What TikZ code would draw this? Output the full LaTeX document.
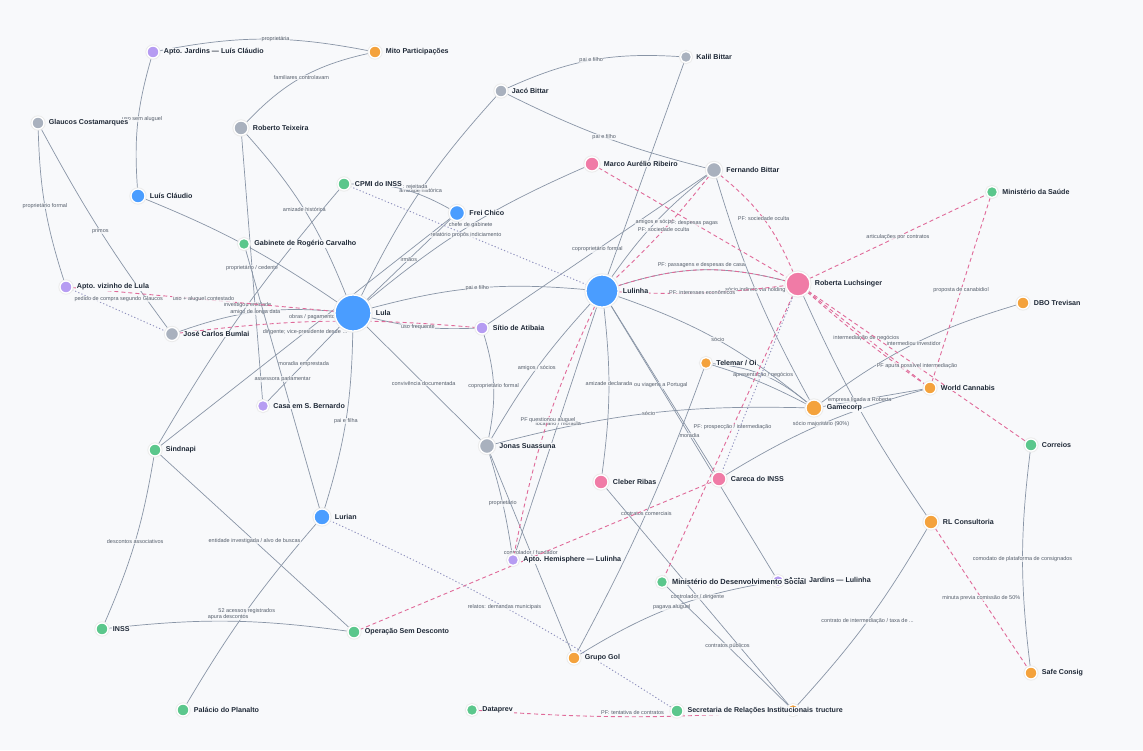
\documentclass[tikz,border=0pt]{standalone}
\usepackage{fontspec}
\setmainfont{Liberation Sans}
\pgfdeclarelayer{back}
\pgfdeclarelayer{edges}
\pgfsetlayers{back,edges,main}
\definecolor{bgc}{HTML}{F8F9FB}
\definecolor{cblue}{HTML}{4A9DFF}
\definecolor{cpink}{HTML}{F07BA6}
\definecolor{cgray}{HTML}{A9B1BE}
\definecolor{cgreen}{HTML}{5BC78C}
\definecolor{corange}{HTML}{F4A23C}
\definecolor{cpurple}{HTML}{B69CF2}
\definecolor{egray}{HTML}{8995A6}
\definecolor{epink}{HTML}{E06A99}
\definecolor{edot}{HTML}{8E90BD}
\definecolor{ntext}{HTML}{1F2937}
\definecolor{etext}{HTML}{555E6B}
\begin{document}
\begin{tikzpicture}[x=1pt,y=-1pt,
  ndot/.style 2 args={circle, fill=#1, minimum size=#2, inner sep=0pt, draw=white, line width=1.3pt,
    preaction={draw=black!8, line width=3.2pt}},
  nlab/.style={font=\bfseries\fontsize{7.1}{8}\selectfont, text=ntext, fill=bgc, inner sep=0.8pt, label distance=3.3pt},
  nlabf/.style={nlab, fill=bgc, inner sep=0.4pt},
  elab/.style={font=\fontsize{5.5}{6}\selectfont, text=etext, fill=bgc, fill opacity=0.75, text opacity=1, inner sep=0.5pt},
  edgerel/.style={draw=egray, line width=0.7pt},
  edgeinv/.style={draw=epink, line width=0.9pt, dash pattern=on 4pt off 3pt},
  edgeweak/.style={draw=edot, line width=0.9pt, dash pattern=on 1.2pt off 2.2pt}]

\begin{pgfonlayer}{back}
\fill[bgc] (0,0) rectangle (1143,750);
\end{pgfonlayer}

% nodes
\node[ndot={cpurple}{12pt}, label={[nlab]0:{Apto. Jardins — Luís Cláudio}}] (ajlc) at (153,52) {};
\node[ndot={corange}{12pt}, label={[nlab]0:{Mito Participações}}] (mito) at (375,52) {};
\node[ndot={cgray}{12pt}, label={[nlab]0:{Glaucos Costamarques}}] (glaucos) at (38,123) {};
\node[ndot={cgray}{14pt}, label={[nlab]0:{Roberto Teixeira}}] (rt) at (241,128) {};
\node[ndot={cblue}{14pt}, label={[nlab]0:{Luís Cláudio}}] (lc) at (138,196) {};
\node[ndot={cgreen}{12pt}, label={[nlab]0:{CPMI do INSS}}] (cpmi) at (344,184) {};
\node[ndot={cblue}{15pt}, label={[nlab]0:{Frei Chico}}] (frei) at (457,213) {};
\node[ndot={cgreen}{11pt}, label={[nlab]0:{Gabinete de Rogério Carvalho}}] (gab) at (244,244) {};
\node[ndot={cpurple}{12pt}, label={[nlab]0:{Apto. vizinho de Lula}}] (aptoviz) at (66,287) {};
\node[ndot={cgray}{13pt}, label={[nlab]0:{José Carlos Bumlai}}] (bumlai) at (172,334) {};
\node[ndot={cblue}{36pt}, label={[nlab]0:{Lula}}] (lula) at (353,313) {};
\node[ndot={cpurple}{12pt}, label={[nlab]0:{Sítio de Atibaia}}] (sitio) at (482,328) {};
\node[ndot={cgray}{12pt}, label={[nlab]0:{Jacó Bittar}}] (jaco) at (501,91) {};
\node[ndot={cgray}{11pt}, label={[nlab]0:{Kalil Bittar}}] (kalil) at (686,57) {};
\node[ndot={cpink}{14pt}, label={[nlab]0:{Marco Aurélio Ribeiro}}] (marco) at (592,164) {};
\node[ndot={cgray}{15pt}, label={[nlab]0:{Fernando Bittar}}] (fernando) at (714,170) {};
\node[ndot={cblue}{32pt}, label={[nlab]0:{Lulinha}}] (lulinha) at (602,291) {};
\node[ndot={cpink}{24pt}, label={[nlab]0:{Roberta Luchsinger}}] (roberta) at (798,284) {};
\node[ndot={cgreen}{11pt}, label={[nlab]0:{Ministério da Saúde}}] (saude) at (992,192) {};
\node[ndot={corange}{12pt}, label={[nlab]0:{DBO Trevisan}}] (dbo) at (1023,303) {};
\node[ndot={corange}{11pt}, label={[nlab]0:{Telemar / Oi}}] (telemar) at (706,363) {};
\node[ndot={corange}{16pt}, label={[nlab]0:{Gamecorp}}] (gamecorp) at (814,408) {};
\node[ndot={corange}{12pt}, label={[nlab]0:{World Cannabis}}] (wc) at (930,388) {};
\node[ndot={cpurple}{11pt}, label={[nlab]0:{Casa em S. Bernardo}}] (casa) at (263,406) {};
\node[ndot={cgreen}{12pt}, label={[nlab]0:{Sindnapi}}] (sindnapi) at (155,450) {};
\node[ndot={cgray}{15pt}, label={[nlab]0:{Jonas Suassuna}}] (jonas) at (487,446) {};
\node[ndot={cpink}{14pt}, label={[nlab]0:{Cleber Ribas}}] (cleber) at (601,482) {};
\node[ndot={cpink}{14pt}, label={[nlab]0:{Careca do INSS}}] (careca) at (719,479) {};
\node[ndot={cgreen}{12pt}, label={[nlab]0:{Correios}}] (correios) at (1031,445) {};
\node[ndot={cblue}{16pt}, label={[nlab]0:{Lurian}}] (lurian) at (322,517) {};
\node[ndot={corange}{14pt}, label={[nlab]0:{RL Consultoria}}] (rl) at (931,522) {};
\node[ndot={cpurple}{11pt}, label={[nlab]0:{Apto. Hemisphere — Lulinha}}] (apth) at (513,560) {};
\node[ndot={cpurple}{11pt}, label={[nlab]0:{Apto. Jardins — Lulinha}}] (aptojl) at (778,581) {};
\node[ndot={cgreen}{11pt}, label={[nlabf, font=\bfseries\fontsize{7.45}{8}\selectfont]0:{Ministério do Desenvolvimento Social}}] (mds) at (662,582) {};
\node[ndot={cgreen}{12pt}, label={[nlab]0:{INSS}}] (inss) at (102,629) {};
\node[ndot={cgreen}{12pt}, label={[nlab]0:{Operação Sem Desconto}}] (opsd) at (354,632) {};
\node[ndot={corange}{12pt}, label={[nlab]0:{Grupo Gol}}] (gol) at (574,658) {};
\node[ndot={cgreen}{12pt}, label={[nlab]0:{Palácio do Planalto}}] (planalto) at (183,710) {};
\node[ndot={cgreen}{11pt}, label={[nlab]0:{Dataprev}}] (dataprev) at (472,710) {};
\node[ndot={corange}{11pt}, label={[nlab, xshift=12.5pt]0:{tructure}}] (struct) at (793,710) {};
\node[ndot={cgreen}{12pt}, label={[nlabf]0:{Secretaria de Relações Institucionais}}] (secretaria) at (677,711) {};
\node[ndot={corange}{12pt}, label={[nlab]0:{Safe Consig}}] (safe) at (1031,673) {};

\begin{pgfonlayer}{edges}
% solid relations
\draw[edgerel] (ajlc) to[bend left=11] node[elab, pos=0.56]{proprietária} (mito);
\draw[edgerel] (mito) to[bend right=17] node[elab]{familiares controlavam} (rt);
\draw[edgerel] (ajlc) to[bend right=10] node[elab, pos=0.47, xshift=4pt]{uso sem aluguel} (lc);
\draw[edgerel] (glaucos) to[bend right=8] node[elab]{proprietário formal} (aptoviz);
\draw[edgerel] (glaucos) to[bend right=4] node[elab]{primos} (bumlai);
\draw[edgerel] (rt) -- node[elab]{proprietário / cedente} (casa);
\draw[edgerel] (rt) to[bend left=10] node[elab]{amizade histórica} (lula);
\draw[edgerel] (lc) to[bend left=6] (lula);
\draw[edgerel] (bumlai) to[bend left=12] node[elab]{amigo de longa data} (lula);
\draw[edgerel] (lula) to[bend right=8] node[elab, pos=0.45]{uso frequente} (sitio);
\draw[edgerel] (jaco) to[bend right=8] node[elab, pos=0.5]{amizade histórica} (lula);
\draw[edgerel] (cpmi) to[bend left=15] node[elab, pos=0.64, yshift=6pt]{: rejeitada} (frei);
\draw[edgerel] (lula) -- node[elab]{irmãos} (frei);
\draw[edgerel] (marco) to[bend right=8] node[elab]{chefe de gabinete} (lula);
\draw[edgerel] (frei) -- node[elab]{dirigente; vice-presidente desde …} (sindnapi);
\draw[edgerel] (cpmi) to[bend right=5] node[elab, pos=0.47]{investigou entidade} (sindnapi);
\draw[edgerel] (lula) to[bend left=10] node[elab]{pai e filho} (lulinha);
\draw[edgerel] (lula) -- node[elab]{convivência documentada} (jonas);
\draw[edgerel] (lula) to[bend left=8] node[elab]{pai e filha} (lurian);
\draw[edgerel] (lula) -- node[elab]{moradia emprestada} (casa);
\draw[edgerel] (gab) -- node[elab]{assessora parlamentar} (lurian);
\draw[edgerel] (sitio) to[bend left=14] node[elab]{coproprietário formal} (jonas);
\draw[edgerel] (fernando) -- node[elab]{coproprietário formal} (sitio);
\draw[edgerel] (fernando) to[bend right=8] node[elab]{amigos e sócios} (lulinha);
\draw[edgerel] (kalil) -- (lulinha);
\draw[edgerel] (kalil) to[bend right=14] node[elab]{pai e filho} (jaco);
\draw[edgerel] (jaco) to[bend right=6] node[elab]{pai e filho} (fernando);
\draw[edgerel] (fernando) to[bend right=6] node[elab, pos=0.49]{sócio indireto via holding} (gamecorp);
\draw[edgerel] (lulinha) to[bend left=16] (roberta);
\draw[edgerel] (roberta) to[bend right=5] (rl);
\draw[edgerel] (gamecorp) -- node[elab, pos=0.37]{empresa ligada a Roberta} (wc);
\draw[edgerel] (gamecorp) to[bend left=10] node[elab]{intermediou investidor} (dbo);
\draw[edgerel] (careca) to[bend left=8] node[elab]{sócio majoritário (90\%)} (wc);
\draw[edgerel] (lulinha) -- node[elab, pos=0.48]{ou viagens a Portugal} (careca);
\draw[edgerel] (lulinha) -- node[elab, pos=0.48]{moradia} (aptojl);
\draw[edgerel] (gol) to[bend left=11] node[elab]{pagava aluguel} (aptojl);
\draw[edgerel] (telemar) to[bend left=4] node[elab]{contratos comerciais} (gol);
\draw[edgerel] (telemar) to[bend left=17] node[elab]{apresentação / negócios} (gamecorp);
\draw[edgerel] (telemar) to[bend left=5] (gamecorp);
\draw[edgerel] (lulinha) to[bend left=10] node[elab]{sócio} (gamecorp);
\draw[edgerel] (jonas) to[bend left=8] node[elab]{sócio} (gamecorp);
\draw[edgerel] (lulinha) to[bend right=6] node[elab]{amigos / sócios} (jonas);
\draw[edgerel] (lulinha) to[bend left=7] node[elab, pos=0.45]{amizade declarada} (cleber);
\draw[edgerel] (lulinha) -- node[elab, pos=0.47]{locatário / moradia} (apth);
\draw[edgerel] (jonas) to[bend left=4] node[elab]{proprietário} (apth);
\draw[edgerel] (jonas) -- node[elab]{controlador / fundador} (gol);
\draw[edgerel] (cleber) -- node[elab]{controlador / dirigente} (struct);
\draw[edgerel] (mds) -- node[elab]{contratos públicos} (struct);
\draw[edgerel] (rl) to[bend left=6] node[elab]{contrato de intermediação / taxa de ...} (struct);
\draw[edgerel] (correios) to[bend right=7] node[elab]{comodato de plataforma de consignados} (safe);
\draw[edgerel] (lurian) to[bend right=5] node[elab]{52 acessos registrados} (planalto);
\draw[edgerel] (sindnapi) to[bend left=7] node[elab]{descontos associativos} (inss);
\draw[edgerel] (sindnapi) -- node[elab]{entidade investigada / alvo de buscas} (opsd);
\draw[edgerel] (inss) to[bend left=7] node[elab, yshift=4pt]{apura descontos} (opsd);
% investigated (dashed)
\draw[edgeinv] (aptoviz) -- node[elab]{uso + aluguel contestado} (lula);
\draw[edgeinv] (bumlai) to[bend left=6] node[elab, pos=0.45, yshift=4pt]{obras / pagamentos} (sitio);
\draw[edgeinv] (fernando) to[bend left=4] node[elab]{PF: sociedade oculta} (lulinha);
\draw[edgeinv] (marco) -- node[elab]{PF: despesas pagas} (roberta);
\draw[edgeinv] (fernando) to[bend left=14] node[elab]{PF: sociedade oculta} (roberta);
\draw[edgeinv] (lulinha) to[bend left=16] node[elab, yshift=5pt]{PF: passagens e despesas de casa} (roberta);
\draw[edgeinv] (lulinha) to[bend right=5] node[elab]{PF: interesses econômicos} (roberta);
\draw[edgeinv] (roberta) -- node[elab]{articulações por contratos} (saude);
\draw[edgeinv] (saude) -- node[elab]{proposta de canabidiol} (wc);
\draw[edgeinv] (roberta) -- node[elab]{intermediação de negócios} (wc);
\draw[edgeinv] (roberta) to[bend right=3] (wc);
\draw[edgeinv] (roberta) -- node[elab]{PF apura possível intermediação} (correios);
\draw[edgeinv] (roberta) -- node[elab, pos=0.47]{PF: prospecção / intermediação} (mds);
\draw[edgeinv] (careca) -- (opsd);
\draw[edgeinv] (lulinha) to[bend right=7] node[elab, pos=0.47]{PF questionou aluguel} (apth);
\draw[edgeinv] (dataprev) to[bend right=4] node[elab, yshift=4pt]{PF: tentativa de contratos} (struct);
\draw[edgeinv] (rl) -- node[elab]{minuta previa comissão de 50\%} (safe);
% weak (dotted)
\draw[edgeweak] (aptoviz) -- node[elab, yshift=11pt]{pedido de compra segundo Glaucos} (bumlai);
\draw[edgeweak] (cpmi) -- node[elab, pos=0.49]{relatório propôs indiciamento} (lulinha);
\draw[edgeweak] (careca) -- (roberta);
\draw[edgeweak] (lurian) to[bend left=4] node[elab]{relatos: demandas municipais} (secretaria);
\end{pgfonlayer}
\end{tikzpicture}
\end{document}
